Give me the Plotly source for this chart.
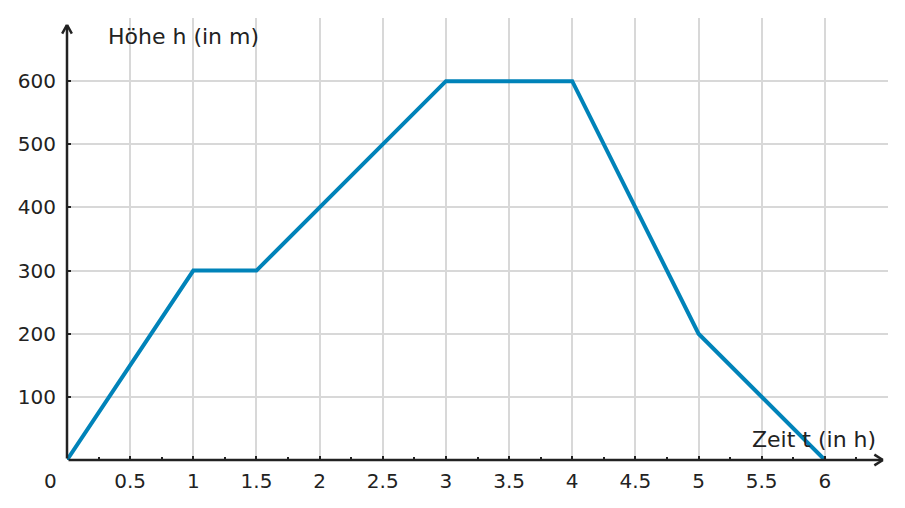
import plotly.graph_objects as go

# Zeit t (in h) und Höhe h (in m)
zeit = [0, 1, 1.5, 3, 4, 5, 6]
hoehe = [0, 300, 300, 600, 600, 200, 0]

x_ticks = [0.5, 1, 1.5, 2, 2.5, 3, 3.5, 4, 4.5, 5, 5.5, 6]
x_labels = ["0.5", "1", "1.5", "2", "2.5", "3", "3.5", "4", "4.5", "5", "5.5", "6"]
y_ticks = [100, 200, 300, 400, 500, 600]
y_labels = ["100", "200", "300", "400", "500", "600"]

achse = "#222222"
schrift = dict(family="DejaVu Sans", size=20, color="#222222")
titel = dict(family="DejaVu Sans", size=22, color="#222222")

fig = go.Figure()
fig.add_trace(go.Scatter(x=zeit, y=hoehe, mode="lines",
                         line=dict(color="#0083b9", width=4),
                         hoverinfo="skip", showlegend=False, cliponaxis=False))

fig.update_xaxes(range=[0, 6.5], tickvals=x_ticks, ticktext=x_labels,
                 showgrid=True, gridcolor="#d8d8d8", gridwidth=1.6,
                 zeroline=False, showline=False, automargin=False,
                 ticks="inside", ticklen=4, tickwidth=2, tickcolor=achse,
                 minor=dict(tickvals=[0.25, 0.75, 1.25, 1.75, 2.25, 2.75, 3.25, 3.75,
                                      4.25, 4.75, 5.25, 5.75, 6.25],
                            ticks="inside", ticklen=3, tickwidth=2, tickcolor=achse,
                            showgrid=False),
                 tickfont=schrift, ticklabelstandoff=7, fixedrange=True)
fig.update_yaxes(range=[0, 700], tickvals=y_ticks, ticktext=y_labels,
                 showgrid=True, gridcolor="#d8d8d8", gridwidth=1.6,
                 zeroline=False, showline=False, automargin=False,
                 ticks="inside", ticklen=4, tickwidth=2, tickcolor=achse,
                 tickfont=schrift, ticklabelstandoff=10, fixedrange=True)


# Achsen mit offenen Pfeilspitzen als Annotationspfeile (werden nicht abgeschnitten)
def strich(x0, y0, x1, y1):
    fig.add_annotation(x=x1, y=y1, ax=x0, ay=y0, xref="x", yref="y",
                       axref="x", ayref="y", text="", showarrow=True,
                       arrowhead=0, arrowwidth=2.5, arrowcolor=achse)


strich(0, 0, 6.46, 0)
strich(0, 0, 0, 689)
strich(6.38, 10, 6.46, 0)
strich(6.38, -10, 6.46, 0)
strich(-0.045, 673, 0, 689)
strich(0.045, 673, 0, 689)

fig.add_annotation(x=0, y=0, text="0", showarrow=False, xanchor="center",
                   yanchor="top", xshift=-17, yshift=-7, font=schrift)
fig.add_annotation(x=0.31, y=671, text="Höhe h (in m)", showarrow=False,
                   xanchor="left", yanchor="middle", font=titel)
fig.add_annotation(x=6.42, y=33, text="Zeit t (in h)", showarrow=False,
                   xanchor="right", yanchor="middle", font=titel)

fig.update_layout(width=905, height=508,
                  margin=dict(l=67, r=17, t=18, b=48),
                  plot_bgcolor="white", paper_bgcolor="white",
                  font=schrift)

fig.write_html("out.html", config={"displayModeBar": False},
               post_script="document.body.style.margin='0';")
